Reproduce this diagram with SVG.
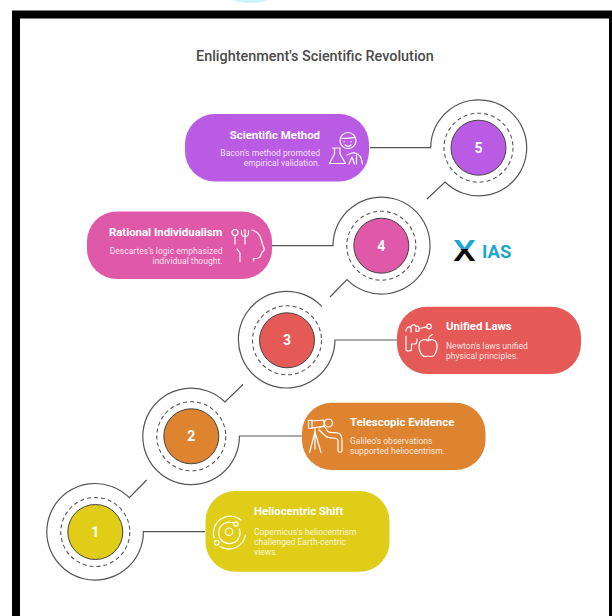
<svg xmlns="http://www.w3.org/2000/svg" width="612" height="616" viewBox="0 0 612 616">
<defs>
<linearGradient id="xfill" gradientUnits="userSpaceOnUse" x1="0" y1="-21" x2="0" y2="0">
<stop offset="0.45" stop-color="#1ba6d2"/><stop offset="0.45" stop-color="#0a0a0a"/>
</linearGradient>
</defs>
<style>
text{font-family:Roboto,"Liberation Sans",sans-serif}
.title{font-size:14.4px;font-weight:500;fill:#4a4a4a}
.h{font-size:11.4px;font-weight:700;fill:#fff}
.d{font-size:8.55px;fill:#fff;fill-opacity:.85}
.n{font-size:14px;font-weight:700;fill:#fff;text-anchor:middle}
.e{text-anchor:end}
.conn{fill:none;stroke:#555;stroke-width:1.2}
.dash{fill:none;stroke:#555;stroke-width:1.1;stroke-dasharray:4 3}
.core{stroke:#444;stroke-width:1}
.ic{fill:none;stroke:#fff;stroke-width:1.2;stroke-linecap:round;stroke-linejoin:round}
</style>
<rect width="612" height="616" fill="#fff"/>
<ellipse cx="251" cy="-5" rx="23" ry="8" fill="#cff6f7"/>
<rect x="12" y="10.500" width="600" height="606" fill="#000"/>
<rect x="20" y="18.500" width="589" height="598" fill="#fff"/>
<text id="title" class="title" x="196" y="61">Enlightenment's Scientific Revolution</text>

<g id="connectors">
<path class="conn" d="M370 147.700H430.700A48 48 0 1 1 445 182L427 199"/>
<path class="conn" d="M272 245.700H333A48.500 48.500 0 1 1 347 279.700L330 297"/>
<path class="conn" d="M398 340H335A48.300 48.300 0 1 1 322 306.700"/>
<path class="conn" d="M302 436H239.400A48.300 48.300 0 1 1 225 402L243 384.500"/>
<path class="conn" d="M205 531.700H143.400A48.300 48.300 0 1 1 129.300 497.700L146.700 480"/>
</g>

<g id="node-5">
<rect x="185" y="114" width="184" height="67.500" rx="30" fill="#b95be3"/>
<circle class="dash" cx="478.500" cy="147.700" r="34.500"/>
<circle class="core" cx="478.500" cy="147.700" r="27.500" fill="#b95be3"/>
<text class="n" x="478.500" y="152.700">5</text>
<text class="h e" x="320" y="138.500">Scientific Method</text>
<text class="d e" x="320" y="156">Bacon's method promoted</text>
<text class="d e" x="320" y="166">empirical validation.</text>
<g class="ic">
<circle cx="348" cy="140.500" r="8"/>
<path d="M340.500 138C344 139 351 138 355.500 137.500M344 141.500v.5M351 141.500v.5M345 145C347 146.500 349.500 146.500 351 145"/>
<path d="M332.500 148H340M334.500 148V154L329.500 163.500H345.500L340 154V148"/>
<path d="M347 155L352 153C356 152.500 360 155 361 158L362.500 164M349 164L352 157L354.500 164M356.500 155V164"/>
</g>
</g>

<g id="node-4">
<rect x="87" y="211.500" width="185" height="67.500" rx="30" fill="#df59a8"/>
<circle class="dash" cx="381.300" cy="245.700" r="34.500"/>
<circle class="core" cx="381.300" cy="245.700" r="27.500" fill="#df59a8"/>
<text class="n" x="381.300" y="250.700">4</text>
<text class="h e" x="222.500" y="236">Rational Individualism</text>
<text class="d e" x="222.500" y="253.500">Descartes's logic emphasized</text>
<text class="d e" x="222.500" y="263.500">individual thought.</text>
<g class="ic">
<circle cx="235" cy="232.500" r="3"/>
<path d="M235 235.500V244M241.500 230.500V233C241.500 235.500 243 236.500 245 236.500C247 236.500 248.500 235.500 248.500 233V230.500M245 229.500V244"/>
<path d="M252 230C257 231.500 260 235 261 239L262.500 244C263 246.500 265.500 249 263.500 251L262 252.500L260 257C259 258.500 256 258.500 253.500 258.500V261"/>
<path d="M237 249L240 253V261.500"/>
</g>
</g>

<g id="node-3">
<rect x="397" y="306.700" width="184" height="67.300" rx="30" fill="#e55a57"/>
<circle class="dash" cx="287" cy="340.300" r="34.500"/>
<circle class="core" cx="287" cy="340.300" r="27.500" fill="#e55a57"/>
<text class="n" x="287" y="345.300">3</text>
<text class="h" x="446" y="330">Unified Laws</text>
<text class="d" x="446" y="348.500">Newton's laws unified</text>
<text class="d" x="446" y="358.500">physical principles.</text>
<g class="ic">
<circle cx="429" cy="326.500" r="2.300"/>
<path d="M426.700 326.800L419 328.500M406 331C406 327 409 326 410.500 327.500C411.500 324.500 415 324 416 326.500C418 325 420 328 419 331L416 331.500V328M411 328V332M406 336V349.500C406 351.500 411 351.500 411.500 349.500V344H415C416 344 417 342 417 339"/>
<path d="M428 341C425 338.500 419.500 339.500 419 345C418.500 350 421.500 356.500 425 356.500C426.500 356.500 427 356 428 356C429 356 430 356.500 431.500 356.500C435 356.500 437.500 350 437 345C436.500 339.500 431 338.500 428 341ZM428 341C428 338 430 335.500 432.500 334.500"/>
</g>
</g>

<g id="node-2">
<rect x="302" y="402.700" width="183.500" height="67.300" rx="30" fill="#de8431"/>
<circle class="dash" cx="191.300" cy="436.300" r="34.500"/>
<circle class="core" cx="191.300" cy="436.300" r="27.500" fill="#de8431"/>
<text class="n" x="191.300" y="441.300">2</text>
<text class="h" x="350" y="426">Telescopic Evidence</text>
<text class="d" x="350" y="444">Galileo's observations</text>
<text class="d" x="350" y="454">supported heliocentrism.</text>
<g class="ic">
<path d="M308.500 420.500L312 420V428.500L308.500 428ZM312 421L324 420V426L312 428M315 428V432"/>
<path d="M315 432L309.500 452.500M315 432V449M315 432L321 452.500"/>
<circle cx="328.500" cy="423" r="4"/>
<path d="M319 428L324 426L328 431.500C331 434 337 431 340 434C342 436 342 438 342 441V451C342 452.500 338 452.500 338 451V441C338 439 336 438 333 438C329 438 327 437.500 325 435.500L319 430"/>
</g>
</g>

<g id="node-1">
<rect x="205.500" y="491" width="184" height="80.700" rx="30" fill="#e0cd17"/>
<circle class="dash" cx="95.300" cy="532" r="34.500"/>
<circle class="core" cx="95.300" cy="532" r="27.500" fill="#e0cd17"/>
<text class="n" x="95.300" y="537">1</text>
<text class="h" x="254" y="514.500">Heliocentric Shift</text>
<text class="d" x="254" y="534.500">Copernicus's heliocentrism</text>
<text class="d" x="254" y="544.500">challenged Earth-centric</text>
<text class="d" x="254" y="554.500">views.</text>
<g class="ic">
<circle cx="229" cy="531.700" r="3.700"/>
<path d="M233 522.800A10.700 10.700 0 1 0 239.300 529"/>
<circle cx="236" cy="524" r="2.200"/>
<circle cx="216.700" cy="542.700" r="2.300"/>
<path d="M214 538A17 17 0 0 1 241 520M245.500 535A17 17 0 0 1 220 546.500"/>
</g>
</g>

<g id="logo">
<text transform="translate(453 261) scale(1.25 1)" font-size="29" font-weight="500" fill="url(#xfill)">X</text>
<text x="482" y="258" font-size="18.500" font-weight="700" fill="#1ba6d2">IAS</text>
</g>
</svg>
